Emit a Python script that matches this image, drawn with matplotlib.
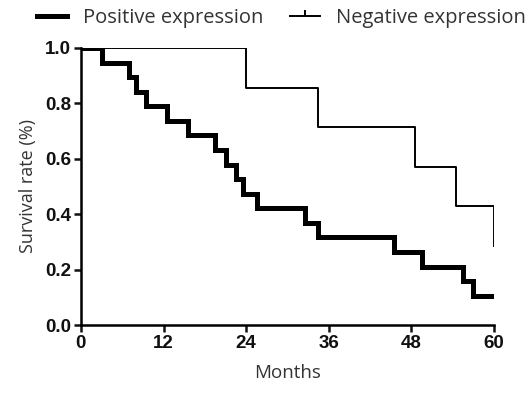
import matplotlib
matplotlib.use("Agg")
import matplotlib.pyplot as plt
from matplotlib.lines import Line2D

# Kaplan-Meier steps
pos_times = [0, 3, 7, 8, 9.5, 12.5, 15.5, 19.5, 21, 22.5, 23.5, 25.5, 32.5, 34.5, 45.5, 49.5, 55.5, 57, 60]
pos_surv = [1.0, 0.947, 0.895, 0.842, 0.789, 0.737, 0.684, 0.632, 0.579, 0.526,
            0.474, 0.421, 0.368, 0.316, 0.263, 0.211, 0.158, 0.105, 0.105]

neg_times = [0, 24, 34.5, 48.5, 54.5, 60]
neg_surv = [1.0, 0.857, 0.714, 0.571, 0.429, 0.286]

x_ticks = [0, 12, 24, 36, 48, 60]
y_ticks = [0.0, 0.2, 0.4, 0.6, 0.8, 1.0]

fig = plt.figure(figsize=(5.29, 3.93), dpi=100)
ax = fig.add_axes([0.153, 0.173, 0.781, 0.705])

ax.step(pos_times, pos_surv, where="post", color="black", lw=3.6, solid_joinstyle="miter")
ax.step(neg_times, neg_surv, where="post", color="black", lw=1.4)

ax.set_xlim(0, 60)
ax.set_ylim(0, 1.0)
ax.set_xticks(x_ticks)
ax.set_yticks(y_ticks)
ax.set_xticklabels([str(t) for t in x_ticks], family="Liberation Sans", fontweight="bold", fontsize=13.5)
ax.set_yticklabels(["%.1f" % t for t in y_ticks], family="Liberation Sans", fontweight="bold", fontsize=13.5)

for side in ["top", "right"]:
    ax.spines[side].set_visible(False)
for side in ["left", "bottom"]:
    ax.spines[side].set_linewidth(1.8)
ax.tick_params(direction="out", length=5, width=1.8, pad=2, colors="#111111")

ax.set_xlabel("Months", family="Open Sans", fontsize=13.5, color="#333333", labelpad=9)
ax.set_ylabel("Survival rate (%)", family="Open Sans", fontsize=13, color="#333333", labelpad=6)

handles = [
    Line2D([], [], color="black", lw=3.6),
    Line2D([], [], color="black", lw=1.4, marker=2, markersize=4.5, markeredgewidth=1.4),
]
fig.legend(handles, ["Positive expression", "Negative expression"], loc="upper left",
           bbox_to_anchor=(0.035, 1.025), ncol=2, frameon=False, handlelength=1.5,
           columnspacing=1.3, handletextpad=0.8, numpoints=1,
           prop={"family": "Open Sans", "size": 14.5}, labelcolor="#333333")

fig.savefig("out.png", dpi=100)
